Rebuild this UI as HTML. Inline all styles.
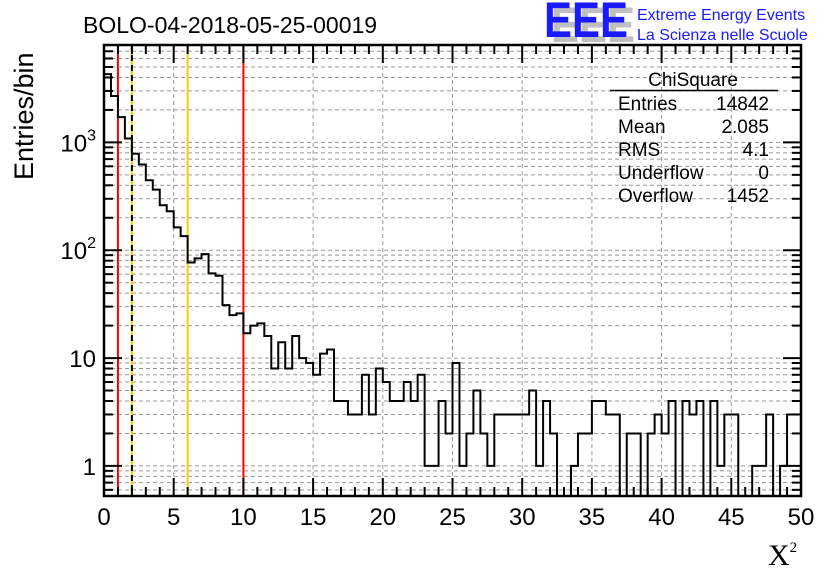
<!DOCTYPE html>
<html><head><meta charset="utf-8"><style>
html,body{margin:0;padding:0;background:#fff;}
svg{display:block;font-family:"Liberation Sans",sans-serif;}
</style></head><body>
<svg id="chart" width="836" height="572" viewBox="0 0 836 572" xmlns="http://www.w3.org/2000/svg">
<rect width="836" height="572" fill="#fff"/>
<g id="grid"></g>
<g id="vlines"></g>
<g id="hist"></g>
<g id="axes"></g>
<text x="83" y="33" font-size="23">BOLO-04-2018-05-25-00019</text>
<g>
<text x="551" y="42" font-size="50" font-weight="bold" fill="#c0c0c0" textLength="84" lengthAdjust="spacingAndGlyphs">EEE</text>
<text x="544" y="37" font-size="50" font-weight="bold" fill="#1a1aff" textLength="84" lengthAdjust="spacingAndGlyphs">EEE</text>
<text x="637" y="20" font-size="16" fill="#1a1aff">Extreme Energy Events</text>
<text x="637" y="40" font-size="16" fill="#1a1aff">La Scienza nelle Scuole</text>
</g>
<g font-size="19">
<text x="693" y="86" text-anchor="middle">ChiSquare</text>
<line x1="610" y1="90.5" x2="778" y2="90.5" stroke="#000" stroke-width="1.5"/>
<text x="618" y="110">Entries</text><text x="769" y="110" text-anchor="end">14842</text>
<text x="618" y="133">Mean</text><text x="769" y="133" text-anchor="end">2.085</text>
<text x="618" y="156">RMS</text><text x="769" y="156" text-anchor="end">4.1</text>
<text x="618" y="179">Underflow</text><text x="769" y="179" text-anchor="end">0</text>
<text x="618" y="202">Overflow</text><text x="769" y="202" text-anchor="end">1452</text>
</g>
<text x="0" y="0" font-size="27" transform="translate(33,180) rotate(-90)">Entries/bin</text>
<text x="768" y="565" font-size="30" font-family="Liberation Serif,serif">X<tspan font-size="15" dy="-13">2</tspan></text>
</svg>
<script>
const binCounts = [4300,2690,1713,1087,784,623,445,365,261,230,163,135,77,84,92,61,58,31,25,26,17,20,21,16,8,14,8,16,10,9,7,11,12,4,4,3,3,7,3,8,6,4,4,6,4,7,1,1,4,2,9,1,2,5,2,1,3,3,3,3,3,5,1,4,2,0,0,1,2,2,4,4,3,3,0,2,2,0,2,3,2,4,0,4,3,4,0,4,1,3,3,0,0,1,1,3,0,1,3,3];
const binWidth = [0.5];
const xTickLabels = ["0","5","10","15","20","25","30","35","40","45","50"];
const yTickValues = [1,10,100,1000];
const yTickLabels = ["1","10","10²","10³"];
const refLines = [1,10];
const yellowLines = [2,6];
const dashedLines = [2];

const X0=104,X1=801,Y0=496,Y1=45,XMIN=0,XMAX=50,YMIN=0.526,YMAX=8000;
const NS="http://www.w3.org/2000/svg";
function xs(v){return X0+(v-XMIN)/(XMAX-XMIN)*(X1-X0);}
function ys(v){if(v<=YMIN)return Y0;return Y0-(Math.log10(v)-Math.log10(YMIN))/(Math.log10(YMAX)-Math.log10(YMIN))*(Y0-Y1);}
function mk(tag,attrs,parent){const e=document.createElementNS(NS,tag);for(const k in attrs)e.setAttribute(k,attrs[k]);parent.appendChild(e);return e;}
const grid=document.getElementById('grid'),axes=document.getElementById('axes'),hist=document.getElementById('hist'),vl=document.getElementById('vlines');

for(let i=1;i<xTickLabels.length-1;i++){const x=xs(parseFloat(xTickLabels[i]));
 const g=mk('line',{x1:x,x2:x,y1:Y1,y2:Y0,stroke:'#999','stroke-dasharray':'4,3','stroke-width':1},grid);
 }
for(let d=-1;d<4;d++){for(let m=1;m<10;m++){const v=m*Math.pow(10,d);if(v<YMIN||v>YMAX)continue;const y=ys(v);
 const g=mk('line',{x1:X0,x2:X1,y1:y,y2:y,stroke:'#999','stroke-dasharray':'4,3','stroke-width':1},grid);
 
 const tl=(m===1)?18:9;
 mk('line',{x1:X0,x2:X0+tl,y1:y,y2:y,stroke:'#000','stroke-width':2},axes);
 mk('line',{x1:X1,x2:X1-tl,y1:y,y2:y,stroke:'#000','stroke-width':2},axes);}}

refLines.forEach(v=>{const l=mk('line',{x1:xs(v),x2:xs(v),y1:Y1,y2:Y0,stroke:'#ff0000','stroke-width':2},vl);
 });
yellowLines.forEach(v=>{const l=mk('line',{x1:xs(v),x2:xs(v),y1:Y1,y2:Y0,stroke:'#ffcc00','stroke-width':2},vl);
 });
dashedLines.forEach(v=>{const l=mk('line',{x1:xs(v),x2:xs(v),y1:Y1,y2:Y0,stroke:'#000','stroke-width':2,'stroke-dasharray':'6,4'},vl);
 });

let d='M'+xs(0)+','+ys(binCounts[0]);
binCounts.forEach((c,i)=>{const xa=xs(i*binWidth[0]),xb=xs((i+1)*binWidth[0]),y=ys(c);d+=' L'+xa+','+y+' L'+xb+','+y;});
const hp=mk('path',{d:d,fill:'none',stroke:'#000','stroke-width':2},hist);



const fr=mk('rect',{x:X0,y:Y1,width:X1-X0,height:Y0-Y1,fill:'none',stroke:'#000','stroke-width':2.5},axes);



for(let v=XMIN;v<=XMAX;v+=1){const x=xs(v);const tl=(v%5===0)?18:9;
 mk('line',{x1:x,x2:x,y1:Y0,y2:Y0-tl,stroke:'#000','stroke-width':2},axes);
 mk('line',{x1:x,x2:x,y1:Y1,y2:Y1+tl,stroke:'#000','stroke-width':2},axes);}
xTickLabels.forEach(s=>{const t=mk('text',{x:xs(parseFloat(s)),y:Y0+29,'font-size':24,'text-anchor':'middle'},axes);t.textContent=s;
 });
yTickValues.forEach((v,i)=>{const t=mk('text',{x:X0-8,y:ys(v)+9,'font-size':24,'text-anchor':'end'},axes);
 const lab=yTickLabels[i];
 if(lab.length>2&&lab.startsWith('10')&&lab!=='10'){t.textContent='10';const ts=mk('tspan',{'font-size':16,dy:-11},t);ts.textContent=lab.slice(2)==='²'?'2':'3';}
 else t.textContent=lab;
 });
</script>
</body></html>
